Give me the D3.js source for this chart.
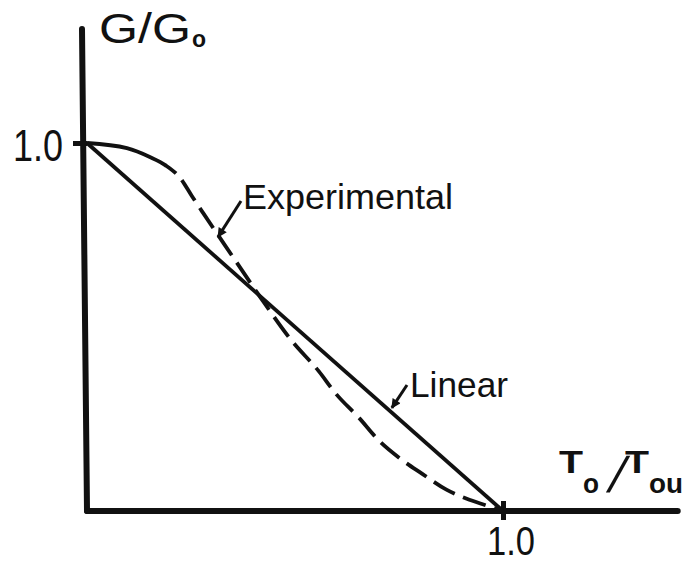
<!DOCTYPE html>
<html>
<head>
<meta charset="utf-8">
<script src="https://cdn.jsdelivr.net/npm/d3@7/dist/d3.min.js"></script>
<style>
  html, body { margin: 0; padding: 0; background: #fff; }
  svg { display: block; }
  text { font-family: "Liberation Sans", Arial, sans-serif; fill: #111; }
</style>
</head>
<body>
<svg id="chart" width="688" height="565"></svg>
<script>
// Normalised temperature ratio T0/T0u along x, normalised gain G/G0 along y
const linearX = [0, 1];
const linearY = [1, 0];

const experimentalX = [0, 0.096, 0.151, 0.188, 0.224, 0.252, 0.279, 0.351, 0.416, 0.492, 0.557, 0.598, 0.654, 0.702, 0.751, 0.806, 0.864, 0.913, 0.96, 1];
const experimentalY = [1, 0.986, 0.962, 0.94, 0.905, 0.856, 0.81, 0.69, 0.582, 0.463, 0.38, 0.319, 0.253, 0.191, 0.144, 0.101, 0.058, 0.033, 0.015, 0];

const xTicks = [1.0];
const yTicks = [1.0];
const tickLabels = ["1.0"];

const svg = d3.select("#chart");
const ink = "#111";

const x = d3.scaleLinear().domain([0, 1]).range([87, 503]);
const y = d3.scaleLinear().domain([0, 1]).range([511, 143]);

// axis lines, extended beyond the unit range
const xEnd = x(1.42);
const yTop = y(1.31);
svg.append("line").attr("x1", x(0)).attr("y1", y(0)).attr("x2", xEnd).attr("y2", y(0))
  .attr("stroke", ink).attr("stroke-width", 6).attr("stroke-linecap", "round");
svg.append("line").attr("x1", x(0) - 5).attr("y1", yTop).attr("x2", x(0)).attr("y2", y(0))
  .attr("stroke", ink).attr("stroke-width", 6).attr("stroke-linecap", "round");

// y tick
const yAxis = svg.append("g").attr("transform", `translate(${x(0)},0)`)
  .call(d3.axisLeft(y).tickValues(yTicks).tickSize(14).tickFormat(() => ""));
yAxis.select(".domain").remove();
yAxis.selectAll(".tick line").attr("stroke", ink).attr("stroke-width", 5);
svg.selectAll(".ylab").data(yTicks).join("text")
  .attr("x", 13).attr("y", d => y(d) + 18)
  .attr("font-size", 44).attr("textLength", 50).attr("lengthAdjust", "spacingAndGlyphs")
  .text((d, i) => tickLabels[i]);

// x tick, crossing the axis
const xAxis = svg.append("g").attr("transform", `translate(0,${y(0)})`)
  .call(d3.axisBottom(x).tickValues(xTicks).tickSize(9).tickFormat(() => ""));
xAxis.select(".domain").remove();
xAxis.selectAll(".tick line").attr("y1", -10).attr("stroke", ink).attr("stroke-width", 5);
svg.selectAll(".xlab").data(xTicks).join("text")
  .attr("x", d => x(d) - 16).attr("y", 555)
  .attr("font-size", 41).attr("textLength", 48).attr("lengthAdjust", "spacingAndGlyphs")
  .text((d, i) => tickLabels[i]);

// linear characteristic
const lineGen = d3.line().x(d => x(d[0])).y(d => y(d[1]));
svg.append("path")
  .datum(d3.zip(linearX, linearY))
  .attr("d", lineGen)
  .attr("fill", "none").attr("stroke", ink).attr("stroke-width", 3.8);

// experimental characteristic: solid near the top, then long dashes
const curveGen = d3.line().x(d => x(d[0])).y(d => y(d[1])).curve(d3.curveMonotoneX);
const dashes = [96, 9];
for (let i = 0; i < 40; i++) dashes.push(24, 9);
svg.append("path")
  .datum(d3.zip(experimentalX, experimentalY))
  .attr("d", curveGen)
  .attr("fill", "none").attr("stroke", ink).attr("stroke-width", 3.8)
  .attr("stroke-dasharray", dashes.join(" "));

// arrowhead marker
svg.append("defs").append("marker")
  .attr("id", "head").attr("viewBox", "0 0 10 10")
  .attr("refX", 9).attr("refY", 5)
  .attr("markerWidth", 4.2).attr("markerHeight", 3.2)
  .attr("markerUnits", "strokeWidth")
  .attr("orient", "auto")
  .append("path").attr("d", "M0,0 L10,5 L0,10 Z").attr("fill", ink);

// Experimental label with pointer onto the curve
const expTipX = 0.315;
const expTipY = 0.745;
svg.append("line")
  .attr("x1", 241).attr("y1", 201)
  .attr("x2", x(expTipX)).attr("y2", y(expTipY))
  .attr("stroke", ink).attr("stroke-width", 3).attr("marker-end", "url(#head)");
svg.append("text").attr("x", 243).attr("y", 209).attr("font-size", 35)
  .attr("textLength", 210).attr("lengthAdjust", "spacingAndGlyphs")
  .text("Experimental");

// Linear label with pointer onto the line
const linTipX = 0.728;
svg.append("line")
  .attr("x1", 407).attr("y1", 385)
  .attr("x2", x(linTipX) + 2).attr("y2", y(1 - linTipX) - 3)
  .attr("stroke", ink).attr("stroke-width", 3).attr("marker-end", "url(#head)");
svg.append("text").attr("x", 410).attr("y", 397).attr("font-size", 35)
  .attr("textLength", 98).attr("lengthAdjust", "spacingAndGlyphs")
  .text("Linear");

// y axis title G/G0
svg.append("text").attr("x", 99).attr("y", 43).attr("font-size", 42)
  .attr("textLength", 92).attr("lengthAdjust", "spacingAndGlyphs")
  .text("G/G");
svg.append("text").attr("x", 192).attr("y", 47).attr("font-size", 23).attr("font-weight", "bold")
  .text("o");

// x axis title T0/T0u
svg.append("text").attr("x", 559).attr("y", 473).attr("font-size", 31).attr("font-weight", "bold")
  .attr("textLength", 24).attr("lengthAdjust", "spacingAndGlyphs").text("T");
svg.append("text").attr("x", 583).attr("y", 493).attr("font-size", 27).attr("font-weight", "bold")
  .attr("textLength", 16).attr("lengthAdjust", "spacingAndGlyphs").text("o");
svg.append("text").attr("transform", "translate(606,492) skewX(-16)")
  .attr("font-size", 50).text("/");
svg.append("text").attr("x", 625).attr("y", 473).attr("font-size", 31).attr("font-weight", "bold")
  .attr("textLength", 24).attr("lengthAdjust", "spacingAndGlyphs").text("T");
svg.append("text").attr("x", 649).attr("y", 493).attr("font-size", 27).attr("font-weight", "bold")
  .attr("textLength", 34).attr("lengthAdjust", "spacingAndGlyphs").text("ou");
</script>
</body>
</html>
